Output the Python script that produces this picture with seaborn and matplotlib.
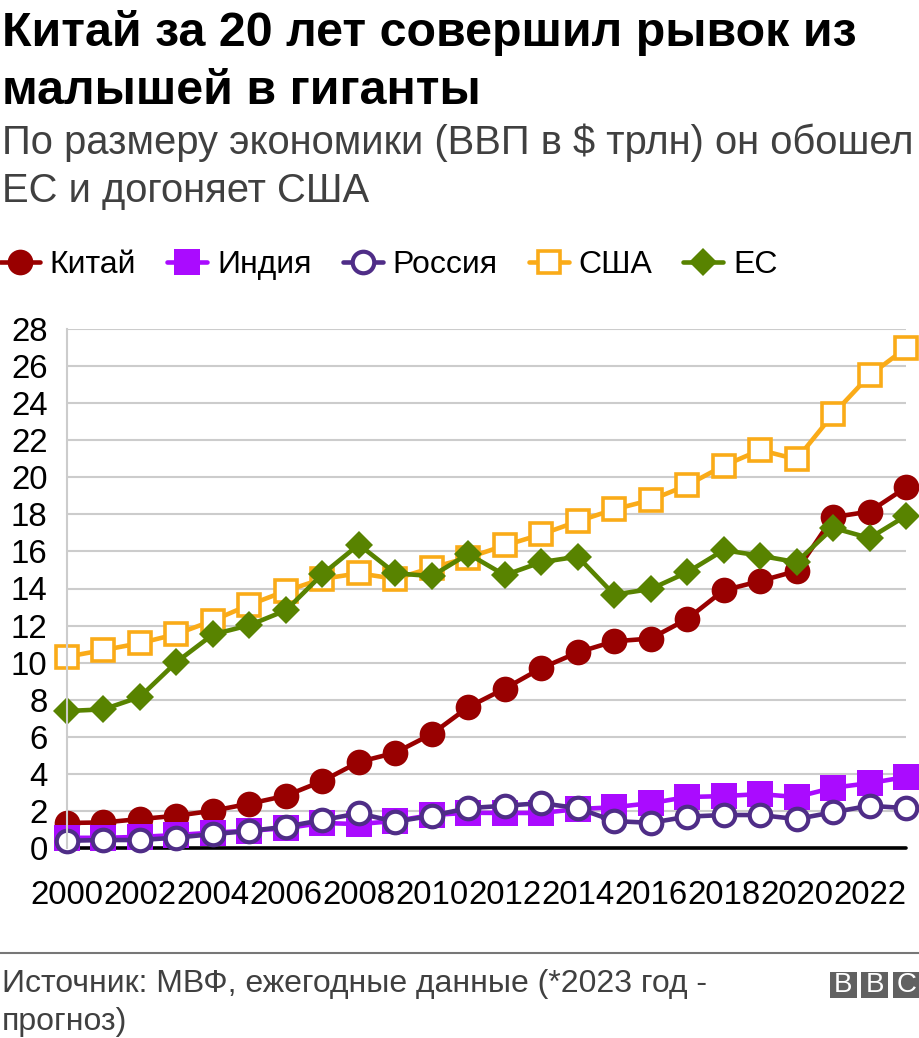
import matplotlib
matplotlib.use('Agg')
import matplotlib.pyplot as plt
from matplotlib.patches import Rectangle
import seaborn as sns

years = list(range(2000, 2024))
china = [1.35, 1.38, 1.56, 1.74, 2.01, 2.39, 2.82, 3.61, 4.64, 5.14, 6.15, 7.6, 8.6, 9.7, 10.55, 11.15, 11.3, 12.35, 13.9, 14.4, 14.95, 17.85, 18.15, 19.45]
india = [0.55, 0.55, 0.6, 0.7, 0.83, 0.93, 1.07, 1.35, 1.29, 1.46, 1.78, 1.9, 1.89, 1.89, 2.1, 2.2, 2.42, 2.75, 2.8, 2.91, 2.75, 3.25, 3.5, 3.83]
russia = [0.39, 0.43, 0.43, 0.56, 0.75, 0.92, 1.15, 1.51, 1.87, 1.42, 1.74, 2.15, 2.28, 2.42, 2.15, 1.45, 1.36, 1.69, 1.78, 1.78, 1.56, 1.93, 2.28, 2.15]
usa = [10.32, 10.68, 11.05, 11.54, 12.27, 13.12, 13.87, 14.52, 14.82, 14.52, 15.12, 15.67, 16.32, 16.92, 17.62, 18.27, 18.77, 19.57, 20.62, 21.47, 20.97, 23.4, 25.5, 26.97]
eu = [7.39, 7.48, 8.15, 10.03, 11.52, 12.02, 12.82, 14.77, 16.37, 14.82, 14.67, 15.87, 14.72, 15.42, 15.72, 13.67, 13.97, 14.87, 16.07, 15.77, 15.42, 17.27, 16.72, 17.92]

x_ticks = list(range(2000, 2023, 2))
y_ticks = list(range(0, 29, 2))

W, H = 920, 1038

sns.set_theme(style='white')
plt.rcParams['font.family'] = ['Liberation Sans', 'DejaVu Sans']

fig = plt.figure(figsize=(W / 100, H / 100), dpi=100)
# axes box in pixels: left 67, right 906, top 329, bottom 848
ax = fig.add_axes([67 / W, 1 - 848 / H, (906 - 67) / W, (848 - 329) / H])


def draw(vals, name, color, marker, size, face=None, edge=0):
    sns.lineplot(x=years, y=vals, ax=ax, label=name, color=color, linewidth=3.3,
                 marker=marker, markersize=size,
                 markerfacecolor=face if face else color,
                 markeredgecolor=color, markeredgewidth=edge,
                 errorbar=None, clip_on=False, legend=False)


draw(china, 'Китай', '#990000', 'o', 18.5)
draw(india, 'Индия', '#AA0BFF', 's', 18.5)
draw(russia, 'Россия', '#4F2D87', 'o', 15.5, face='white', edge=3)
draw(usa, 'США', '#FAAB18', 's', 16, face='white', edge=2.6)
draw(eu, 'ЕС', '#588300', 'D', 14)

ax.set_xlim(2000, 2023)
ax.set_ylim(0, 28)
ax.set_xticks(x_ticks)
ax.set_yticks(y_ticks)
ax.set_axisbelow(True)
ax.grid(axis='y', color='#CCCCCC', linewidth=1.5)
ax.grid(axis='x', visible=False)
sns.despine(ax=ax, top=True, right=True, bottom=True, left=False)
ax.spines['left'].set_color('#CCCCCC')
ax.spines['left'].set_linewidth(1.5)
ax.axhline(0, color='black', linewidth=2.6, zorder=1.5, clip_on=False)
ax.tick_params(axis='x', length=0, pad=23, labelsize=23.8, labelcolor='black')
ax.tick_params(axis='y', length=0, pad=14, labelsize=23.8, labelcolor='black')

handles, labels = ax.get_legend_handles_labels()
fig.legend(handles, labels, loc='center left', bbox_to_anchor=(0.0, 1 - 265 / H),
           ncol=5, frameon=False, fontsize=23, handlelength=1.25, handletextpad=0.31,
           columnspacing=0.97, borderpad=0, borderaxespad=0, labelcolor='black',
           markerscale=1.0)

fig.text(2 / W, 1 - 33 / H, 'Китай за 20 лет совершил рывок из', fontsize=34.8,
         fontweight='bold', color='black', va='center')
fig.text(2 / W, 1 - 91 / H, 'малышей в гиганты', fontsize=34.8,
         fontweight='bold', color='black', va='center')
fig.text(2 / W, 1 - 143 / H, 'По размеру экономики (ВВП в $ трлн) он обошел', fontsize=28.8,
         color='#404040', va='center')
fig.text(2 / W, 1 - 191 / H, 'ЕС и догоняет США', fontsize=28.8, color='#404040', va='center')

# footer
fig.add_artist(plt.Line2D([0, 1], [1 - 953 / H, 1 - 953 / H], color='#777777', linewidth=1.5))
fig.text(2 / W, 1 - 984 / H, 'Источник: МВФ, ежегодные данные (*2023 год -', fontsize=23,
         color='#404040', va='center')
fig.text(2 / W, 1 - 1022 / H, 'прогноз)', fontsize=23, color='#404040', va='center')

# BBC blocks
for x0, letter in zip([830, 861.5, 893], 'BBC'):
    fig.add_artist(Rectangle((x0 / W, 1 - 998 / H), 27 / W, 26 / H, color='#616161',
                             linewidth=0, transform=fig.transFigure))
    fig.text((x0 + 13.5) / W, 1 - 985 / H, letter, fontsize=20,
             color='white', ha='center', va='center')

fig.savefig('out.png', dpi=100)
